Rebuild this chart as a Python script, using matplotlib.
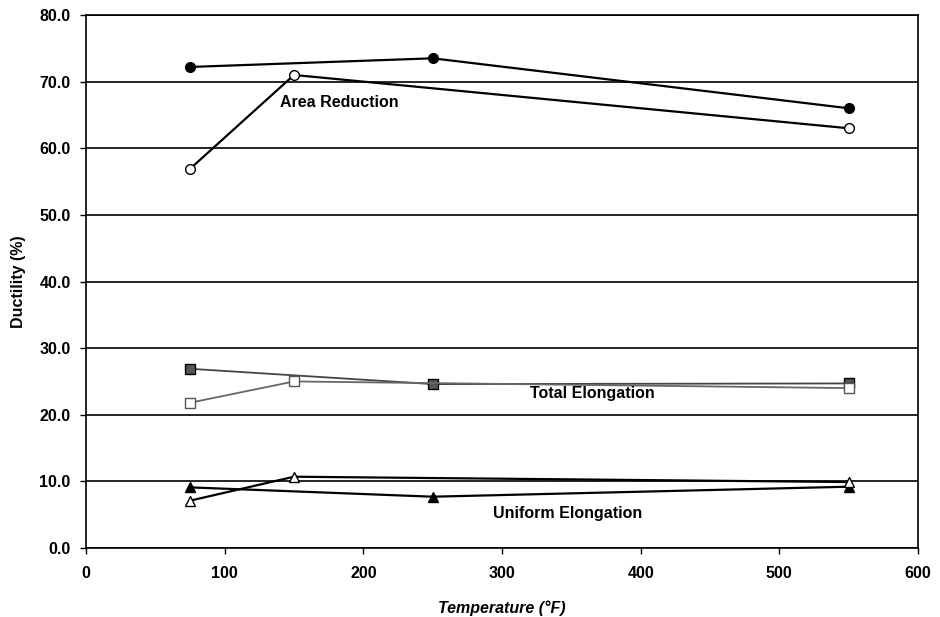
import matplotlib.pyplot as plt
import numpy as np

# Ductility vs test temperature, two material conditions per property
area_filled_t = [75, 250, 550]
area_filled = [72.2, 73.5, 66.0]
area_open_t = [75, 150, 550]
area_open = [56.9, 71.0, 63.0]

total_filled_t = [75, 250, 550]
total_filled = [26.9, 24.6, 24.7]
total_open_t = [75, 150, 550]
total_open = [21.8, 25.0, 24.0]

unif_filled_t = [75, 250, 550]
unif_filled = [9.1, 7.7, 9.2]
unif_open_t = [75, 150, 550]
unif_open = [7.1, 10.7, 9.9]

x_ticks = [0, 100, 200, 300, 400, 500, 600]
y_ticks = [0, 10, 20, 30, 40, 50, 60, 70, 80]

plt.rcParams['font.family'] = ['Liberation Sans', 'DejaVu Sans']
FS = 11.5

fig = plt.figure(figsize=(9.4, 6.17), dpi=100)
ax = fig.add_axes([86/940, 1 - 548/617, (918 - 86)/940, (548 - 15)/617])

for y in y_ticks:
    ax.axhline(y, color='black', linewidth=1.2, zorder=1)

# area reduction
ax.plot(area_filled_t, area_filled, color='black', linewidth=1.6, marker='o',
        markersize=7, markerfacecolor='black', markeredgecolor='black', zorder=3)
ax.plot(area_open_t, area_open, color='black', linewidth=1.6, marker='o',
        markersize=7, markerfacecolor='white', markeredgecolor='black', zorder=3)

# total elongation
ax.plot(total_filled_t, total_filled, color='#444444', linewidth=1.3, marker='s',
        markersize=7, markerfacecolor='#555555', markeredgecolor='black', zorder=3)
ax.plot(total_open_t, total_open, color='#666666', linewidth=1.3, marker='s',
        markersize=7, markerfacecolor='white', markeredgecolor='#555555', zorder=3)

# uniform elongation
ax.plot(unif_filled_t, unif_filled, color='black', linewidth=1.6, marker='^',
        markersize=7, markerfacecolor='black', markeredgecolor='black', zorder=3)
ax.plot(unif_open_t, unif_open, color='black', linewidth=1.6, marker='^',
        markersize=7, markerfacecolor='white', markeredgecolor='black', zorder=3)

ax.text(182.5, 66.9, 'Area Reduction', fontsize=FS, fontweight='bold',
        ha='center', va='center')
ax.text(365, 23.2, 'Total Elongation', fontsize=FS, fontweight='bold',
        ha='center', va='center')
ax.text(347, 5.25, 'Uniform Elongation', fontsize=FS, fontweight='bold',
        ha='center', va='center')

ax.set_xlim(0, 600)
ax.set_ylim(0, 80)
ax.set_xticks(x_ticks)
ax.set_yticks(y_ticks)
ax.set_yticklabels(['%.1f' % v for v in y_ticks])
ax.tick_params(axis='both', direction='out', length=4, width=1, labelsize=FS)
ax.tick_params(axis='x', pad=9)
ax.tick_params(axis='y', pad=7)
for lbl in ax.get_xticklabels() + ax.get_yticklabels():
    lbl.set_fontweight('bold')

for s in ax.spines.values():
    s.set_color('black')
    s.set_linewidth(1.2)

ax.set_xlabel('Temperature (°F)', fontsize=FS, fontweight='bold',
              fontstyle='italic', labelpad=14)
ax.set_ylabel('Ductility (%)', fontsize=FS, fontweight='bold', labelpad=10)

fig.savefig('out.png', dpi=100)
